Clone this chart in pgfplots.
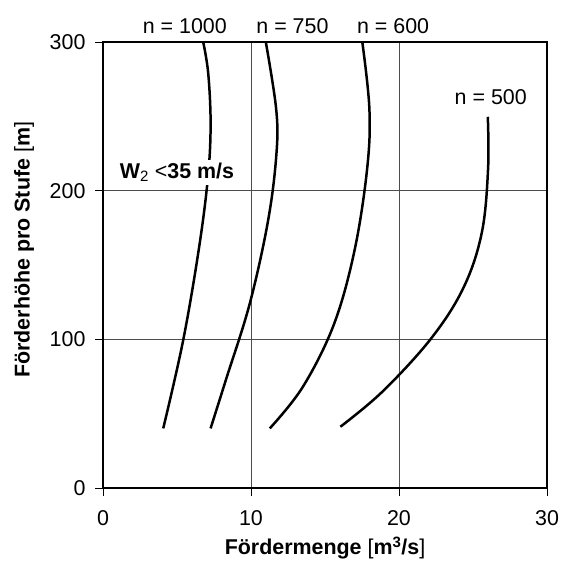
\documentclass[border=0pt]{standalone}
\usepackage{fontspec}
\setmainfont{Liberation Sans}
\usepackage{pgfplots}
\pgfplotsset{compat=1.18}

\begin{document}
\begin{tikzpicture}
\begin{axis}[
    name=ax,
    scale only axis,
    width=444bp, height=446bp,
    xmin=0, xmax=30, ymin=0, ymax=300,
    xtick={0,10,20,30}, ytick={0,100,200,300},
    tick align=outside, xtick pos=bottom, ytick pos=left,
    major tick length=8bp,
    grid=major,
    grid style={black!70, line width=0.5pt},
    axis line style={line width=1.1pt},
    every tick/.style={black, line width=0.8pt},
    ticklabel style={font=\fontsize{21.5}{25}\selectfont},
    xticklabel style={yshift=-11bp},
    yticklabel style={xshift=-6bp},
    /pgf/number format/assume math mode=true,
    xlabel={\textbf{Fördermenge} [\textbf{m\textsuperscript{3}/s}]},
    ylabel={\textbf{Förderhöhe pro Stufe} [\textbf{m}]},
    label style={font=\fontsize{21.5}{25}\selectfont},
    xlabel style={at={(axis description cs:0.5,-0.1345)}, anchor=center},
    ylabel style={at={(axis description cs:-0.178,0.534)}, anchor=center},
    clip=false,
    curve/.style={black, line width=2.5pt, smooth, tension=0.6, mark=none},
]

% n = 1000
\addplot[curve] coordinates {
(4.07,40.1) (5.42,99.5) (6.5,162.3) (7.1,210) (7.27,245) (7.11,278.9) (6.77,300)
};
% n = 750
\addplot[curve] coordinates {
(7.27,40.1) (8.3,72.6) (9.92,124.2) (11.16,180.2) (11.72,225) (11.7,255) (11.0,300)
};
% n = 600
\addplot[curve] coordinates {
(11.27,40.1) (13.5,68) (15.6,110) (17.0,160) (17.85,215) (18.0,255) (17.52,300)
};
% n = 500
\addplot[curve] coordinates {
(16.04,41.2) (18.9,65) (22.18,100.7) (24.37,135) (25.6,172) (26.02,215) (26.0,249.7)
};

\node[fill=white, inner sep=3bp, font=\fontsize{21.5}{25}\selectfont]
  at (axis cs:5.0,212.5) {\textbf{W}\textsubscript{2} <\textbf{35 m/s}};

\node[font=\fontsize{21.5}{25}\selectfont] at (axis cs:5.53,310.7) {n = 1000};
\node[font=\fontsize{21.5}{25}\selectfont] at (axis cs:12.8,310.7) {n = 750};
\node[font=\fontsize{21.5}{25}\selectfont] at (axis cs:19.6,310.7) {n = 600};
\node[font=\fontsize{21.5}{25}\selectfont] at (axis cs:26.2,262.6) {n = 500};
\end{axis}
\path ([xshift=-103bp,yshift=-73bp]ax.south west) rectangle ([xshift=22bp,yshift=42bp]ax.north east);
\end{tikzpicture}
\end{document}
